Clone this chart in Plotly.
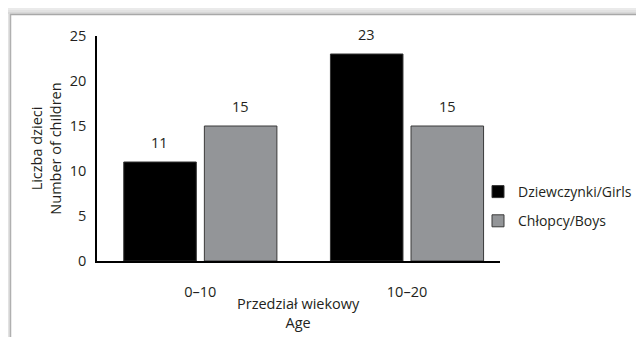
import plotly.graph_objects as go

categories = ["0–10", "10–20"]
girls = [11, 23]
boys = [15, 15]
series_names = ["Dziewczynki/Girls", "Chłopcy/Boys"]
y_ticks = [0, 5, 10, 15, 20, 25]
x_title = "Przedział wiekowy<br>Age"
y_title = "Liczba dzieci<br>Number of children"

# page body has an 8px margin: build figure so window coords match the reference
OFF = 8
W, H = 644 - OFF, 337 - OFF
L, R, T, B = 97 - OFF, 144, 36 - OFF, 76
PW, PH = W - L - R, H - T - B
FONT = "Open Sans"
FS = 14.5
TXT = "#231f20"

fig = go.Figure()
fig.add_trace(go.Bar(x=categories, y=girls, name=series_names[0], legendgroup="g",
                     marker=dict(color="#000000", line=dict(color="#333333", width=1))))
fig.add_trace(go.Bar(x=categories, y=boys, name=series_names[1], legendgroup="b",
                     marker=dict(color="#939598", line=dict(color="#3a3a3a", width=1))))

slot = 40.5
annotations = []
for vals, shift in ((girls, -slot), (boys, slot)):
    for c, v in zip(categories, vals):
        annotations.append(dict(x=c, y=v, text=str(v), showarrow=False, xshift=shift,
                                yanchor="bottom", yshift=8,
                                font=dict(family=FONT, size=FS, color=TXT)))


def wx(px):
    """window x pixel -> paper x"""
    return (px - OFF - L) / PW


def wy(py):
    """window y pixel -> paper y"""
    return (T + PH - (py - OFF)) / PH


# x-axis title (placed as annotation: axis title is constrained inside margin)
annotations.append(dict(x=0.5, y=wy(334), xref="paper", yref="paper", text=x_title,
                        showarrow=False, xanchor="center", yanchor="bottom",
                        font=dict(family=FONT, size=FS, color=TXT)))

shapes = []
top_cols = ["#f1f1f1", "#eaeaea", "#e2e2e2", "#d8d8d8"]
for i, col in enumerate(top_cols):
    y0 = 6 + 2 * i
    shapes.append(dict(type="rect", xref="paper", yref="paper", layer="below",
                       x0=wx(0), x1=wx(650), y0=wy(y0), y1=wy(y0 + 2.2),
                       fillcolor=col, line=dict(width=0)))
left_cols = ["#ebebeb", "#e2e2e2"]
for i, col in enumerate(left_cols):
    x0 = 6 + 2 * i
    shapes.append(dict(type="rect", xref="paper", yref="paper", layer="below",
                       x0=wx(x0), x1=wx(x0 + 2.2), y0=wy(340), y1=wy(14),
                       fillcolor=col, line=dict(width=0)))
shapes.append(dict(type="line", xref="paper", yref="paper",
                   x0=wx(10), x1=wx(650), y0=wy(14.5), y1=wy(14.5),
                   line=dict(color="#a8a8a8", width=1.5)))
shapes.append(dict(type="line", xref="paper", yref="paper",
                   x0=wx(10.5), x1=wx(10.5), y0=wy(14), y1=wy(340),
                   line=dict(color="#b0b0b0", width=1.5)))

fig.update_layout(
    width=W, height=H,
    margin=dict(l=L, r=R, t=T, b=B, autoexpand=False),
    paper_bgcolor="white", plot_bgcolor="white",
    font=dict(family=FONT, size=FS, color=TXT),
    barmode="group", bargap=0.22, bargroupgap=0.1,
    showlegend=True,
    legend=dict(x=wx(478), y=wy(176), xanchor="left", yanchor="top",
                bgcolor="rgba(0,0,0,0)", tracegroupgap=8, font=dict(size=14),
                traceorder="grouped"),
    annotations=annotations,
    shapes=shapes,
    xaxis=dict(range=[-0.5, 1.45], showline=True, linecolor="#000", linewidth=1.5,
               ticks="", showgrid=False, zeroline=False, ticklabelstandoff=17),
    yaxis=dict(range=[0, 25], tickvals=y_ticks, showline=True, linecolor="#000",
               linewidth=1.5, ticks="", showgrid=False, zeroline=False,
               ticklabelstandoff=6,
               title=dict(text=y_title, standoff=5, font=dict(size=FS))),
)

fig.write_html("out.html")
